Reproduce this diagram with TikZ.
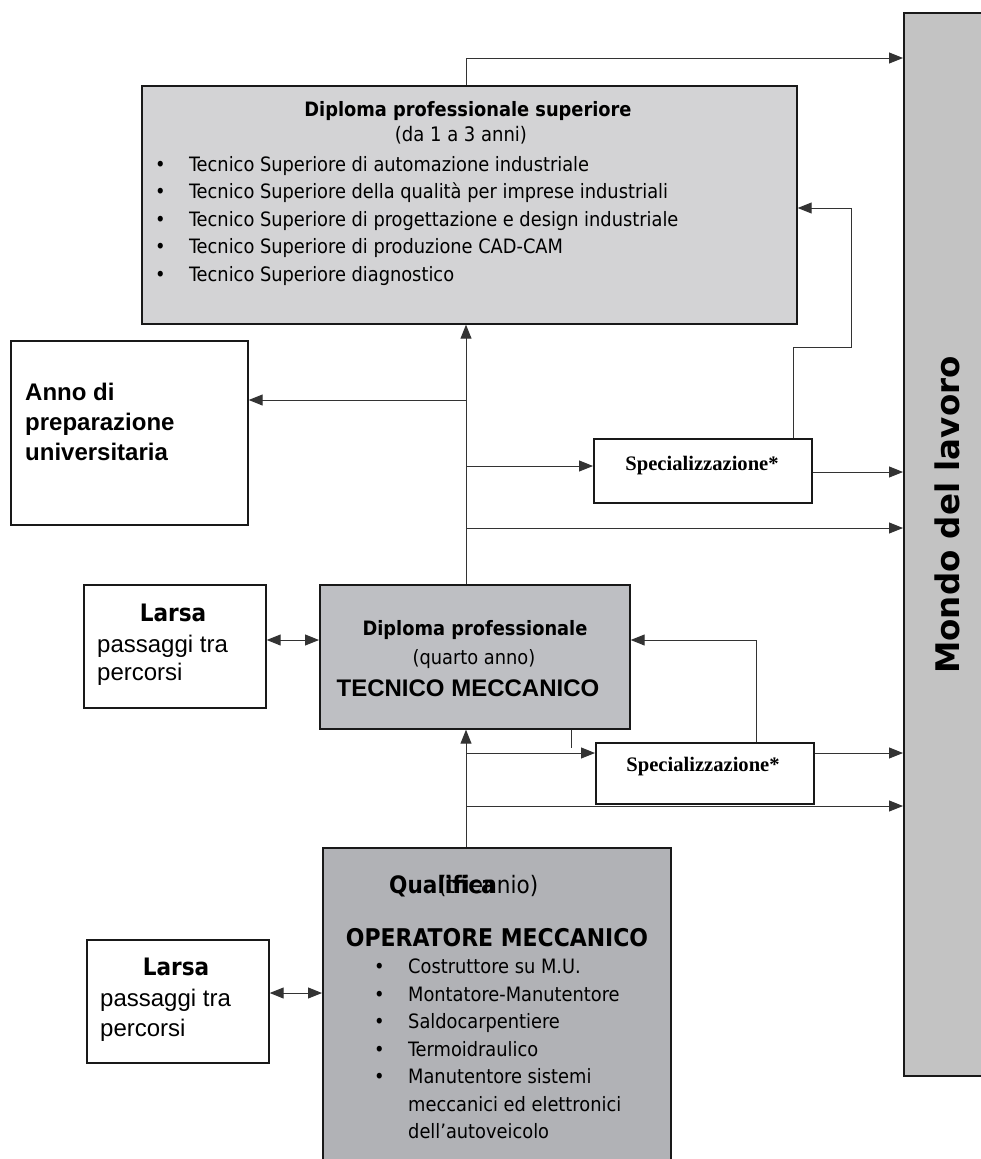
\documentclass[tikz,border=0pt]{standalone}
\usepackage{fontspec}
\setmainfont{Liberation Sans}
\newfontfamily\tahoma{DejaVu Sans Condensed}
\newfontfamily\verdana{DejaVu Sans}
\newfontfamily\timesfont{Liberation Serif}
\usetikzlibrary{arrows.meta, positioning}

\definecolor{palegrey}{HTML}{D3D3D5}
\definecolor{midgrey}{HTML}{BEBFC3}
\definecolor{darkgrey}{HTML}{B1B2B6}
\definecolor{worldgrey}{HTML}{C3C3C3}

\tikzset{
  box/.style={draw=black!90, line width=1.7pt, inner sep=0pt, anchor=north west},
  flow/.style={draw=black!80, line width=1pt},
  label/.style={inner sep=0pt},
  list/.style={inner sep=0pt, align=left, anchor=north west}
}
\newcommand{\itembul}{\makebox[34pt][l]{\textbullet}}

\begin{document}
\begin{tikzpicture}[x=1pt, y=-1pt, >={Triangle[length=14pt, width=11pt]}]
\useasboundingbox (0,0) rectangle (981,1159);

\coordinate (spine) at (466,0);
\coordinate (toptap) at (466,58);
\coordinate (annotap) at (466,400);
\coordinate (s1in) at (466,466);
\coordinate (s1out) at (0,472);
\coordinate (long1) at (466,528);
\coordinate (l1tap) at (0,640);
\coordinate (s2in) at (466,753);
\coordinate (long2) at (466,806);
\coordinate (l2tap) at (0,993);
\coordinate (fbup1) at (793,0);
\coordinate (fb1) at (851,347);
\coordinate (fbin1) at (0,208);
\coordinate (fbup2) at (756,0);
\coordinate (tick) at (571,0);

% boxes
\node[box, fill=worldgrey, minimum width=100pt, minimum height=1063pt] (mondo) at (903,12) {};
\node[box, fill=palegrey, minimum width=655pt, minimum height=238pt] (dps) at (141,85) {};
\node[box, minimum width=237pt, minimum height=184pt] (anno) at (10,340) {};
\node[box, minimum width=218pt, minimum height=64pt] (spec1) at (593,438) {};
\node[box, minimum width=182pt, minimum height=123pt] (larsa1) at (83,584) {};
\node[box, fill=midgrey, minimum width=310pt, minimum height=144pt] (tecnico) at (319,584) {};
\node[box, minimum width=218pt, minimum height=61pt] (spec2) at (595,742) {};
\node[box, minimum width=182pt, minimum height=123pt] (larsa2) at (86,939) {};
\node[box, fill=darkgrey, minimum width=348pt, minimum height=330pt] (qualifica) at (322,847) {};

% texts
\node[label, rotate=90, font=\verdana\bfseries\fontsize{32.5}{34}\selectfont] (mondotxt) at (947,515) {Mondo del lavoro};

\node[label, font=\tahoma\bfseries\fontsize{19.8}{22}\selectfont] (dpstitle) at (468,111) {Diploma professionale superiore};
\node[label, font=\tahoma\fontsize{20}{22}\selectfont] (dpsyears) at (461,135) {(da 1 a 3 anni)};
\node[list, font=\tahoma\fontsize{19.8}{27.5}\selectfont] (dpslist) at (155,156) {%
  \itembul Tecnico Superiore di automazione industriale\\
  \itembul Tecnico Superiore della qualità per imprese industriali\\
  \itembul Tecnico Superiore di progettazione e design industriale\\
  \itembul Tecnico Superiore di produzione CAD-CAM\\
  \itembul Tecnico Superiore diagnostico};

\node[list, font=\bfseries\fontsize{24}{30}\selectfont] (annotxt) at (25,383) {Anno di\\preparazione\\universitaria};

\node[label, font=\timesfont\bfseries\fontsize{20.6}{22}\selectfont] (spec1txt) at (702,466) {Specializzazione*};
\node[label, font=\timesfont\bfseries\fontsize{20.6}{22}\selectfont] (spec2txt) at (703,767) {Specializzazione*};

\node[label, font=\tahoma\bfseries\fontsize{24}{26}\selectfont] (larsa1head) at (173,613) {Larsa};
\node[list, font=\fontsize{24}{28}\selectfont] (larsa1txt) at (97,635) {passaggi tra\\percorsi};
\node[label, font=\tahoma\bfseries\fontsize{24}{26}\selectfont] (larsa2head) at (176,967) {Larsa};
\node[list, font=\fontsize{24}{30}\selectfont] (larsa2txt) at (100,989) {passaggi tra\\percorsi};

\node[label, font=\tahoma\bfseries\fontsize{19.8}{22}\selectfont] (tectitle) at (475,630) {Diploma professionale};
\node[label, font=\tahoma\fontsize{19.8}{22}\selectfont] (tecyear) at (474,659) {(quarto anno)};
\node[label, font=\bfseries\fontsize{24}{26}\selectfont] (tecname) at (468,688) {TECNICO MECCANICO};

\node[label, anchor=base west, font=\tahoma\bfseries\fontsize{24}{26}\selectfont] (qualhead) at (389,893) {Qualifica};
\node[label, anchor=base west, font=\tahoma\fontsize{24}{26}\selectfont] (qualyears) at (438,893) {(triennio)};
\node[label, font=\tahoma\bfseries\fontsize{24.4}{26}\selectfont] (qualname) at (497,938) {OPERATORE MECCANICO};
\node[list, font=\tahoma\fontsize{19.8}{27.5}\selectfont] (quallist) at (374,959) {%
  \itembul Costruttore su M.U.\\
  \itembul Montatore-Manutentore\\
  \itembul Saldocarpentiere\\
  \itembul Termoidraulico\\
  \itembul Manutentore sistemi\\
  \hspace*{34pt}meccanici ed elettronici\\
  \hspace*{34pt}dell’autoveicolo};

% connectors
\draw[flow, ->] (dps.north -| spine) -- (toptap) -- (toptap -| mondo.west);
\draw[flow, ->] (tecnico.north -| spine) -- (dps.south -| spine);
\draw[flow, ->] (annotap) -- (annotap -| anno.east);
\draw[flow, ->] (s1in) -- (s1in -| spec1.west);
\draw[flow, ->] (s1out -| spec1.east) -- (s1out -| mondo.west);
\draw[flow, ->] (long1) -- (long1 -| mondo.west);
\draw[flow, ->] (spec1.north -| fbup1) |- (fb1) |- (fbin1 -| dps.east);

\draw[flow, <->] (l1tap -| larsa1.east) -- (l1tap -| tecnico.west);
\draw[flow, ->] (spec2.north -| fbup2) |- (l1tap -| tecnico.east);
\draw[flow] (tecnico.south -| tick) -- ++(0,18);
\draw[flow, ->] (qualifica.north -| spine) -- (tecnico.south -| spine);
\draw[flow, ->] (s2in) -- (s2in -| spec2.west);
\draw[flow, ->] (s2in -| spec2.east) -- (s2in -| mondo.west);
\draw[flow, ->] (long2) -- (long2 -| mondo.west);

\draw[flow, <->] (l2tap -| larsa2.east) -- (l2tap -| qualifica.west);
\end{tikzpicture}
\end{document}
